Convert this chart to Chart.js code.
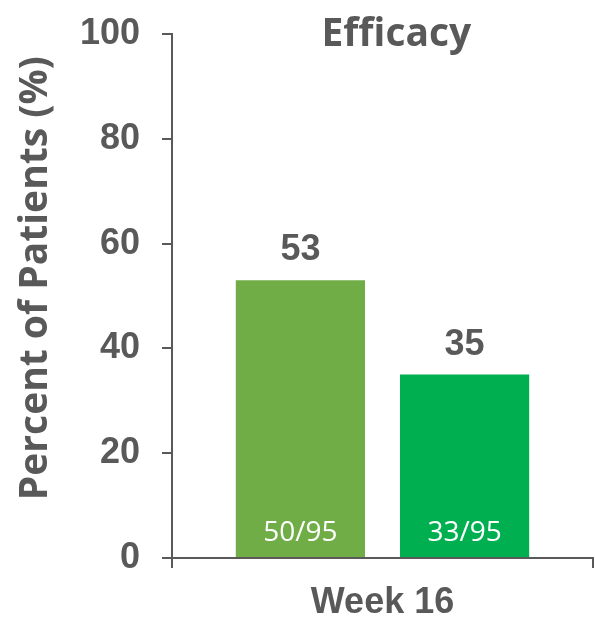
<!DOCTYPE html>
<html>
<head>
<meta charset="utf-8">
<script src="https://cdn.jsdelivr.net/npm/chart.js@4/dist/chart.umd.min.js"></script>
<style>
  html, body { margin: 0; padding: 0; background: #ffffff; }
  #wrap { width: 595px; height: 617px; }
</style>
</head>
<body>
<div id="wrap"><canvas id="c" width="595" height="617"></canvas></div>
<script>
// Chart content
const categories = ['Week 16'];
const armValues = [53, 35];            // percent of patients per arm
const armCounts = ['50/95', '33/95'];  // responders / patients per arm
const armColors = ['#70AD47', '#00B050'];
const yTicks = [0, 20, 40, 60, 80, 100];
const chartTitle = 'Efficacy';
const yTitle = 'Percent of Patients (%)';

const TEXT = '#595959';
const BOLD_NUM = 'bold 36px "Liberation Sans", Arial, sans-serif';
const TITLE_FONT = 'bold 39px "Open Sans", Lato, sans-serif';

const datasets = armValues.map((v, i) => ({
  data: [v],
  backgroundColor: armColors[i],
  borderWidth: 0,
  categoryPercentage: 0.78,
  barPercentage: 0.787,
  counts: [armCounts[i]]
}));

// Title, rotated y title, value labels above the bars and counts inside them
const annotate = {
  id: 'annotate',
  afterDraw(chart) {
    const ctx = chart.ctx;
    const area = chart.chartArea;
    ctx.save();

    ctx.fillStyle = TEXT;
    ctx.font = TITLE_FONT;
    ctx.textAlign = 'center';
    ctx.textBaseline = 'alphabetic';
    ctx.fillText(chartTitle, area.left + (area.right - area.left) * 0.533, area.top + 12);

    ctx.save();
    ctx.translate(36, area.top + (area.bottom - area.top) * 0.466);
    ctx.rotate(-Math.PI / 2);
    ctx.font = TITLE_FONT;
    ctx.textAlign = 'center';
    ctx.textBaseline = 'middle';
    ctx.fillText(yTitle, 0, 0);
    ctx.restore();

    chart.data.datasets.forEach((ds, di) => {
      const meta = chart.getDatasetMeta(di);
      meta.data.forEach((bar, j) => {
        ctx.fillStyle = TEXT;
        ctx.font = BOLD_NUM;
        ctx.textAlign = 'center';
        ctx.textBaseline = 'alphabetic';
        ctx.fillText(String(ds.data[j]), bar.x, bar.y - 20);

        ctx.fillStyle = '#ffffff';
        ctx.font = '28px "Open Sans", sans-serif';
        ctx.textBaseline = 'middle';
        ctx.fillText(ds.counts[j], bar.x, bar.base - 24);
      });
    });
    ctx.restore();
  }
};

new Chart(document.getElementById('c'), {
  type: 'bar',
  data: { labels: categories, datasets },
  options: {
    responsive: false,
    animation: false,
    events: [],
    layout: { padding: { left: 0, top: 34, right: 2, bottom: 0 } },
    plugins: { legend: { display: false }, tooltip: { enabled: false }, title: { display: false } },
    scales: {
      x: {
        offset: true,
        afterFit(scale) { scale.height = 59; scale.paddingLeft = 0; scale.paddingRight = 0; },
        grid: { offset: true, drawOnChartArea: false, drawTicks: true, tickLength: 10, color: TEXT, lineWidth: 2 },
        border: { display: true, color: TEXT, width: 2 },
        ticks: { color: TEXT, font: { family: '"Liberation Sans", Arial, sans-serif', size: 36, weight: 'bold' }, padding: 13 }
      },
      y: {
        min: 0,
        max: 100,
        afterFit(scale) { scale.width = 172; scale.paddingTop = 0; scale.paddingBottom = 0; },
        afterBuildTicks(scale) { scale.ticks = yTicks.map(v => ({ value: v })); },
        grid: { drawOnChartArea: false, drawTicks: true, tickLength: 10, color: TEXT, lineWidth: 2 },
        border: { display: true, color: TEXT, width: 2 },
        ticks: { color: TEXT, font: { family: '"Liberation Sans", Arial, sans-serif', size: 36, weight: 'bold' }, padding: 22 }
      }
    }
  },
  plugins: [annotate]
});
</script>
</body>
</html>
